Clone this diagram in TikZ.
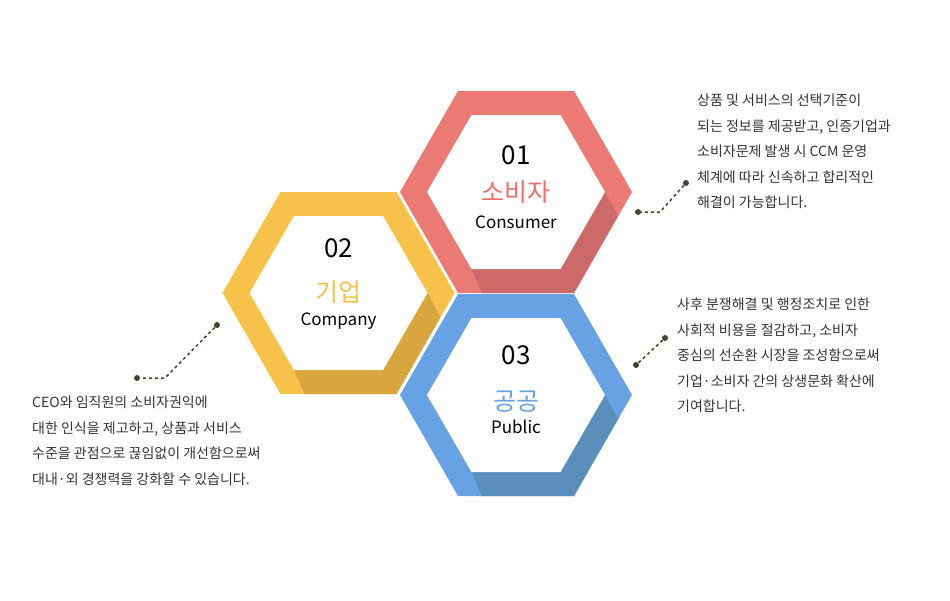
\documentclass[tikz,border=0pt]{standalone}
\usepackage{fontspec}
\setmainfont{Noto Sans CJK KR}
\definecolor{rl}{HTML}{EA7A73}\definecolor{rd}{HTML}{CC6A6A}
\definecolor{yl}{HTML}{F8C24A}\definecolor{yd}{HTML}{D9A53E}
\definecolor{bl}{HTML}{67A3E4}\definecolor{bd}{HTML}{5A8FBB}
\definecolor{tx}{HTML}{333333}\definecolor{dotc}{HTML}{4A4030}
\newcommand{\hexring}[4]{%
\begin{scope}[shift={(#1,#2)}]
\fill[#3] (-116,0)--(-58,-101)--(58,-101)--(116,0)--(58,101)--(-58,101)--cycle;
\fill[#4] (102,24)--(58,101)--(-34,101)--(-44.5,77)--(44.5,77)--(89,0)--cycle;
\fill[white] (-89,0)--(-44.5,-77)--(44.5,-77)--(89,0)--(44.5,77)--(-44.5,77)--cycle;
\end{scope}}
\tikzset{num/.style={font=\fontsize{26}{28}\selectfont},
kr/.style={font=\fontsize{25}{27}\selectfont},
en/.style={font=\fontsize{17}{19}\selectfont},
desc/.style={font=\fontsize{14}{25.5}\selectfont, text=tx, align=left, anchor=north west, inner sep=0},
dot/.style={circle, fill=dotc, inner sep=0, minimum size=6},
lead/.style={dotc, dashed, line width=1.5, dash pattern=on 3 off 3}}
\begin{document}
\begin{tikzpicture}[x=1pt,y=-1pt]
\useasboundingbox (0,0) rectangle (950,600);
\hexring{338.5}{293}{yl}{yd}
\hexring{516}{192}{rl}{rd}
\hexring{516}{395}{bl}{bd}
\node[num] (n1) at (516,155) {01};
\node[kr, text=rl!90!red] (k1) at (516,192) {소비자};
\node[en] (e1) at (516,222) {Consumer};
\node[num] (n2) at (338.5,248) {02};
\node[kr, text=yl!95!orange] (k2) at (338.5,292) {기업};
\node[en] (e2) at (338.5,321) {Company};
\node[num] (n3) at (516,355) {03};
\node[kr, text=bl] (k3) at (516,402) {공공};
\node[en] (e3) at (516,427) {Public};
\node[desc] (d1) at (697,94) {상품 및 서비스의 선택기준이\\되는 정보를 제공받고, 인증기업과\\소비자문제 발생 시 CCM 운영\\체계에 따라 신속하고 합리적인\\해결이 가능합니다.};
\node[desc] (d3) at (677,298) {사후 분쟁해결 및 행정조치로 인한\\사회적 비용을 절감하고, 소비자\\중심의 선순환 시장을 조성함으로써\\기업·소비자 간의 상생문화 확산에\\기여합니다.};
\node[desc] (d2) at (32,396) {CEO와 임직원의 소비자권익에\\대한 인식을 제고하고, 상품과 서비스\\수준을 관점으로 끊임없이 개선함으로써\\대내·외 경쟁력을 강화할 수 있습니다.};
\node[dot] (a1) at (686,183) {}; \node[dot] (b1) at (638,212) {};
\node[dot] (a3) at (665,338) {}; \node[dot] (b3) at (636,365) {};
\node[dot] (a2) at (217,325) {}; \node[dot] (b2) at (137,378) {};
\coordinate (c1) at (660,212);
\coordinate (c2) at (165,378);
\draw[lead] (a1)--(c1)--(b1);
\draw[lead] (a3)--(b3);
\draw[lead] (a2)--(c2)--(b2);
\end{tikzpicture}
\end{document}
